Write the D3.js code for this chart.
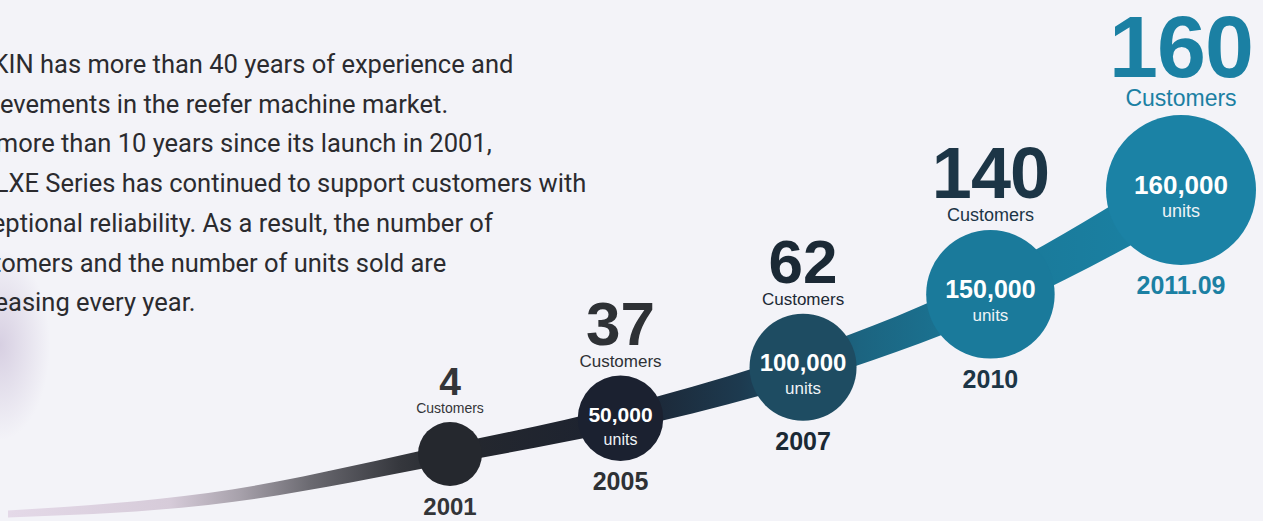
<!DOCTYPE html>
<html>
<head>
<meta charset="utf-8">
<script src="https://cdn.jsdelivr.net/npm/d3@7"></script>
<style>
  body { margin: 0; background: #f3f3f8; overflow: hidden; }
  svg { display: block; }
</style>
</head>
<body>
<script>
// milestones
var years = ["2001", "2005", "2007", "2010", "2011.09"];
var customers = [4, 37, 62, 140, 160];
var units = [null, 50000, 100000, 150000, 160000];

var introLines = [
  "DAIKIN has more than 40 years of experience and",
  "achievements in the reefer machine market.",
  "For more than 10 years since its launch in 2001,",
  "the LXE Series has continued to support customers with",
  "exceptional reliability. As a result, the number of",
  "customers and the number of units sold are",
  "increasing every year."
];

// styling per milestone
var circleFill = ["#25282e", "#1b2130", "#1e4c62", "#1a7a9b", "#1b82a5"];
var inkColor   = ["#333538", "#2e3135", "#1b2935", "#1c3546", "#1b80a3"];
var numSize    = [39, 62, 62, 72, 88];
var custSize   = [14, 17, 17, 18, 23];
var valueSize  = [21, 21, 24, 25, 26];
var wordSize   = [15, 16, 17, 17, 18];
var yearSize   = [24, 25, 25, 25, 25];

var width = 1263, height = 521;
var n = years.length;
var font = "'Liberation Sans', Arial, Helvetica, sans-serif";

var svg = d3.select('body')
  .append('svg')
  .attr('width', width)
  .attr('height', height);

var defs = svg.append('defs');

// faint scan shading on the left edge
var shade = defs.append('radialGradient').attr('id', 'shade');
shade.append('stop').attr('offset', '0%').attr('stop-color', '#d2c9de').attr('stop-opacity', 0.85);
shade.append('stop').attr('offset', '100%').attr('stop-color', '#d2c9de').attr('stop-opacity', 0);
svg.append('ellipse')
  .attr('cx', 0).attr('cy', 345).attr('rx', 50).attr('ry', 95)
  .attr('fill', 'url(#shade)');

// ribbon colour ramp
var ramp = defs.append('linearGradient')
  .attr('id', 'ramp')
  .attr('gradientUnits', 'userSpaceOnUse')
  .attr('x1', 10).attr('x2', 1180).attr('y1', 0).attr('y2', 0);
[[10, '#e4d9e8'], [170, '#d6cbd9'], [240, '#a7a1ab'], [310, '#6b6a71'],
 [400, '#35373d'], [450, '#25282e'], [620, '#1c2230'], [740, '#1d3a4f'],
 [860, '#1c6480'], [980, '#1a7898'], [1180, '#1a82a4']].forEach(function (s) {
  ramp.append('stop')
    .attr('offset', ((s[0] - 10) / (1180 - 10) * 100) + '%')
    .attr('stop-color', s[1]);
});

// scales: stages spread a little wider and climb faster as they go
var x = d3.scalePow().exponent(1.05).domain([0, n - 1]).range([450, 1181]);
var growth = 1.43;
var rise = d3.scaleLinear().domain([1, Math.pow(growth, n - 1)]).range([454, 190]);
var thick = d3.scaleLinear().domain([1, Math.pow(growth, n - 1)]).range([19, 56]);
var r = d3.scaleLinear().domain([0, n - 1]).range([32, 75]);

var stages = years.map(function (yr, i) {
  var g = Math.pow(growth, i);
  return { year: yr, i: i, customers: customers[i], units: units[i],
           x: x(i), y: rise(g), r: r(i), t: thick(g) };
});

// ribbon: lead-in tail then through every milestone
var first = stages[0];
var ribbonPts = [
  { x: first.x - 442, y: first.y + 60, t: 7 },
  { x: first.x - 242, y: first.y + 45, t: 12 }
].concat(stages);

var ribbon = d3.area()
  .x(function (d) { return d.x })
  .y0(function (d) { return d.y + d.t / 2 })
  .y1(function (d) { return d.y - d.t / 2 })
  .curve(d3.curveMonotoneX);

svg.append('path')
  .datum(ribbonPts)
  .attr('d', ribbon)
  .attr('fill', 'url(#ramp)');

var g = svg.append('g')
  .selectAll('g')
  .data(stages)
  .enter().append('g');

g.append('circle')
  .attr('cx', function (d) { return d.x })
  .attr('cy', function (d) { return d.y })
  .attr('r', function (d) { return d.r })
  .attr('fill', function (d) { return circleFill[d.i] });

// "Customers" caption above the circle
g.append('text')
  .attr('x', function (d) { return d.x })
  .attr('y', function (d) { return d.y - d.r - 9 })
  .attr('text-anchor', 'middle')
  .attr('font-family', font)
  .attr('font-size', function (d) { return custSize[d.i] })
  .attr('fill', function (d) { return inkColor[d.i] })
  .text('Customers');

// big customer count
g.append('text')
  .attr('x', function (d) { return d.x })
  .attr('y', function (d) { return d.y - d.r - 9 - custSize[d.i] * 1.28 })
  .attr('text-anchor', 'middle')
  .attr('font-family', font)
  .attr('font-weight', 'bold')
  .attr('font-size', function (d) { return numSize[d.i] })
  .attr('letter-spacing', function (d) { return d.i > 2 ? -1 : 0 })
  .attr('fill', function (d) { return inkColor[d.i] })
  .text(function (d) { return d.customers });

// year under the circle
g.append('text')
  .attr('x', function (d) { return d.x })
  .attr('y', function (d) { return d.y + d.r + 29 })
  .attr('text-anchor', 'middle')
  .attr('font-family', font)
  .attr('font-weight', 'bold')
  .attr('font-size', function (d) { return yearSize[d.i] })
  .attr('fill', function (d) { return inkColor[d.i] })
  .text(function (d) { return d.year });

// units sold inside the circle
var fmt = d3.format(',');
var sold = g.filter(function (d) { return d.units != null });

sold.append('text')
  .attr('x', function (d) { return d.x })
  .attr('y', function (d) { return d.y + 4 })
  .attr('text-anchor', 'middle')
  .attr('font-family', font)
  .attr('font-weight', 'bold')
  .attr('font-size', function (d) { return valueSize[d.i] })
  .attr('fill', '#ffffff')
  .text(function (d) { return fmt(d.units) });

sold.append('text')
  .attr('x', function (d) { return d.x })
  .attr('y', function (d) { return d.y + 27 })
  .attr('text-anchor', 'middle')
  .attr('font-family', font)
  .attr('font-size', function (d) { return wordSize[d.i] })
  .attr('fill', '#eef3f6')
  .text('units');

// intro paragraph, cut off by the left edge like the scan
var para = svg.append('g')
  .attr('font-family', "Roboto, 'Noto Sans', sans-serif")
  .attr('font-size', 25.5)
  .attr('fill', '#2b2b2f');

var probe = para.append('text').text('achi');
var cut = probe.node().getComputedTextLength();
probe.remove();

para.selectAll('text')
  .data(introLines)
  .enter().append('text')
  .attr('x', -cut)
  .attr('y', function (d, i) { return 73 + i * 39.7 })
  .text(function (d) { return d });
</script>
</body>
</html>
